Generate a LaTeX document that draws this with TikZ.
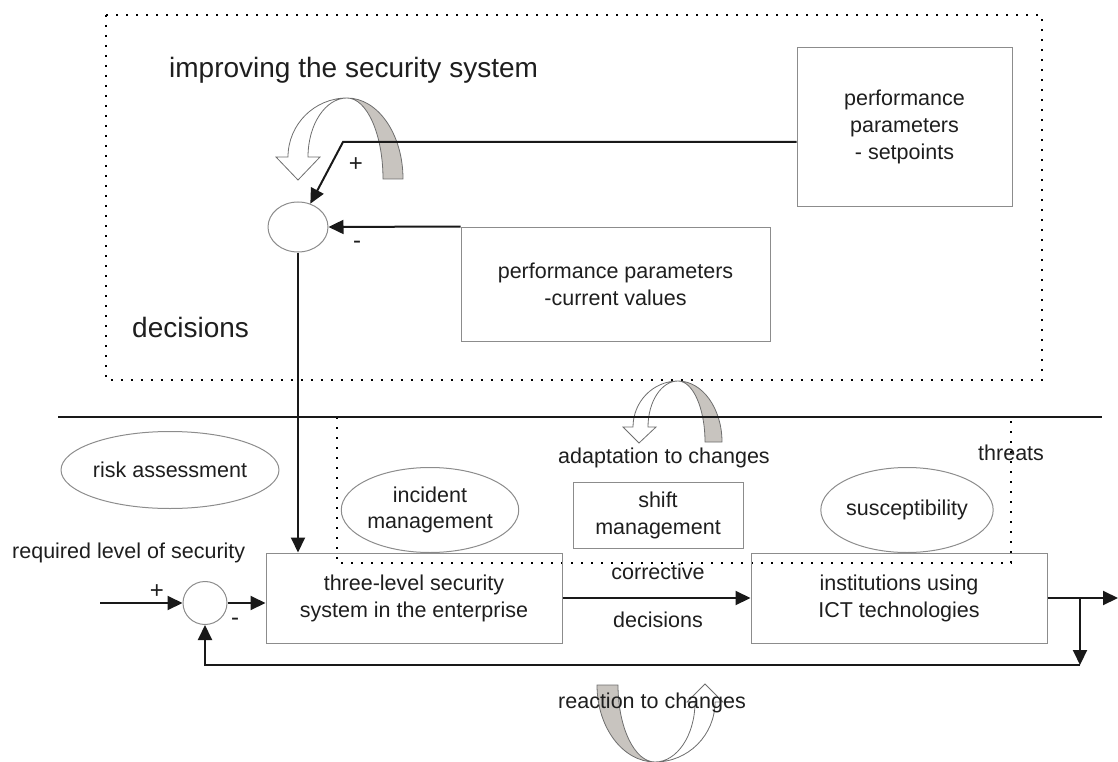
\documentclass[tikz,border=0pt]{standalone}
\usepackage{fontspec}
\setmainfont{Liberation Sans}
\usetikzlibrary{shapes.geometric,arrows.meta}
\definecolor{txt}{RGB}{30,30,30}
\definecolor{bord}{RGB}{140,140,140}
\definecolor{band}{RGB}{200,196,191}
\definecolor{bandline}{RGB}{110,110,110}
\tikzset{
  lbl/.style={font=\fontsize{21.5}{27}\selectfont, text=txt, inner sep=0pt, align=center},
  sign/.style={font=\fontsize{24}{27}\selectfont, text=txt, inner sep=0pt},
  big/.style={font=\fontsize{28}{32}\selectfont, text=txt, inner sep=0pt},
  boxnode/.style={draw=bord, line width=1pt, font=\fontsize{21.5}{27}\selectfont, text=txt, align=center, inner sep=0pt},
  ellnode/.style={ellipse, draw=bord, line width=1pt, font=\fontsize{21.5}{26}\selectfont, text=txt, align=center, inner sep=0pt},
  arr/.style={line width=2pt, draw=black!90, -{Triangle[length=15pt,width=14pt]}},
  dotline/.style={line width=1.8pt, dash pattern=on 1.8pt off 8.2pt},
  bandfill/.style={fill=band, draw=bandline, line width=0.8pt},
  whitefill/.style={fill=white, draw=bandline, line width=0.8pt}
}
\begin{document}
\begin{tikzpicture}[x=1pt,y=-1pt]
\useasboundingbox (0,0) rectangle (1118,762);

% dotted frames
\draw[dotline] (106,15) rectangle (1042,380);
\draw[dotline] (337,417) rectangle (1011,563);

% curved arrow: improving
\path[bandfill] (403,179) arc[start angle=0, end angle=-90, x radius=56, y radius=81]
  arc[start angle=-90, end angle=0, x radius=36, y radius=81] -- cycle;
\path[whitefill] (347,98) arc[start angle=-90, end angle=-180, x radius=59, y radius=59]
  -- (276,157) -- (298,180) -- (320,157) -- (308,157)
  arc[start angle=180, end angle=270, x radius=39, y radius=59] -- cycle;

% curved arrow: adaptation
\path[bandfill] (722,442) arc[start angle=0, end angle=-90, x radius=44, y radius=61]
  arc[start angle=-90, end angle=0, x radius=27, y radius=61] -- cycle;
\path[whitefill] (678,381) arc[start angle=-90, end angle=-180, x radius=45, y radius=46]
  -- (623,427) -- (639,443) -- (656,427) -- (648,427)
  arc[start angle=180, end angle=270, x radius=30, y radius=46] -- cycle;

% curved arrow: reaction
\path[bandfill] (597,685) arc[start angle=180, end angle=90, x radius=58, y radius=77]
  arc[start angle=90, end angle=180, x radius=37, y radius=77] -- cycle;
\path[whitefill] (655,762) arc[start angle=90, end angle=0, x radius=60, y radius=60]
  -- (723,702) -- (705,684) -- (687,702) -- (695,702)
  arc[start angle=0, end angle=90, x radius=40, y radius=60] -- cycle;

% separator
\draw[line width=2pt, black!90] (58,417) -- (1102,417);

% upper part
\node[big, anchor=base west] (title) at (169,78) {improving the security system};
\node[boxnode, minimum width=215, minimum height=158] (sp) at (904.5,127) {performance\\parameters\\- setpoints};
\node[boxnode, minimum width=309, minimum height=114] (cv) at (615.5,284) {performance parameters\\-current values};
\node[ellipse, draw=bord, line width=1pt, minimum width=60, minimum height=50, inner sep=0pt] (s1) at (298,227) {};
\coordinate (c1) at (343,142);
\draw[arr] (sp.west |- c1) -- (c1) -- (s1);
\draw[arr] (cv.north west) -- (s1.east);
\node[sign] (p1) at (356,165) {+};
\node[sign] (m1) at (357,245) {-};
\node[big, anchor=base west] (dec) at (132,337) {decisions};

% lower part
\node[lbl, anchor=west] (req) at (12,553) {required level of security};
\node[ellnode, minimum width=216, minimum height=77] (risk) at (170,470) {risk assessment};
\node[ellnode, minimum width=167, minimum height=85] (inc) at (430,510) {incident\\management};
\node[boxnode, minimum width=170, minimum height=66] (shift) at (658,515) {shift\\management};
\node[ellnode, minimum width=168, minimum height=85] (sus) at (907,510) {susceptibility};
\node[lbl, anchor=west] (thr) at (978,453) {threats};
\node[lbl, anchor=west] (adp) at (558,458) {adaptation to changes};

\node[boxnode, minimum width=296, minimum height=90] (tl) at (414,598) {three-level security\\system in the enterprise};
\node[boxnode, minimum width=296, minimum height=90] (ict) at (899,598) {institutions using\\ ICT technologies};
\node[ellipse, draw=bord, line width=1pt, minimum width=44, minimum height=43, inner sep=0pt] (s2) at (205,603) {};

\draw[arr] (s1.south) -- (s1.south |- tl.north);
\coordinate (in) at (100,603);
\draw[arr] (in) -- (s2.west);
\draw[arr] (s2.east) -- (tl.west |- s2.east);
\draw[arr] (tl.east) -- (ict.west);
\coordinate (out) at (1118,598);
\coordinate (j) at (1080,598);
\coordinate (fb) at (1080,665);
\draw[arr] (ict.east) -- (out);
\draw[arr] (j) -- (fb);
\draw[arr] (fb) -| (s2.south);
\node[sign] (p2) at (157,592) {+};
\node[sign] (m2) at (235,622) {-};
\node[lbl] (cor) at (658,572) {corrective};
\node[lbl] (dec2) at (658,620) {decisions};
\node[lbl] (rea) at (652,703) {reaction to changes};
\end{tikzpicture}
\end{document}
